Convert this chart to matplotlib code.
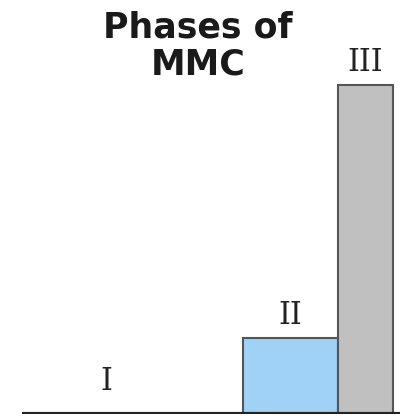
import matplotlib
matplotlib.use("Agg")
import matplotlib.pyplot as plt

phases = ["I", "II", "III"]
starts = [0, 221, 316]          # phase start (arbitrary time units)
durations = [221, 95, 55]       # phase duration
activity = [0, 23, 100]         # contractile activity (relative)
colors = ["#ffffff", "#9fd2f6", "#c0c0c0"]
label_frac = [0.38, 0.5, 0.5]   # label position along each phase
title = "Phases of\nMMC"

fig = plt.figure(figsize=(4.05, 4.18), dpi=100)
ax = fig.add_axes([22/405, 4/418, 378/405, 410/418])
ymax = 100 * 410 / 329
px = ymax / 410

for p, s, d, a, c, f in zip(phases, starts, durations, activity, colors, label_frac):
    if a > 0:
        ax.bar(s, a, width=d, align="edge", color=c, edgecolor="#555555",
               linewidth=1.5, zorder=2)
    off = 14 * px if a > 0 else 24 * px
    ax.text(s + d * f, a + off, p, ha="center", va="baseline",
            family="DejaVu Serif", fontsize=22, color="#222222")

ax.set_xlim(0, 378)
ax.set_ylim(0, ymax)
ax.axhline(0, color="#222222", linewidth=3, zorder=3)
for s in ax.spines.values():
    s.set_visible(False)
ax.set_xticks([])
ax.set_yticks([])

fig.text(198/405, 1 - 46/418, title, ha="center", va="center",
         family="DejaVu Sans", fontweight="bold", fontsize=25,
         linespacing=1.1, color="#1a1a1a")

fig.savefig("out.png", dpi=100)
